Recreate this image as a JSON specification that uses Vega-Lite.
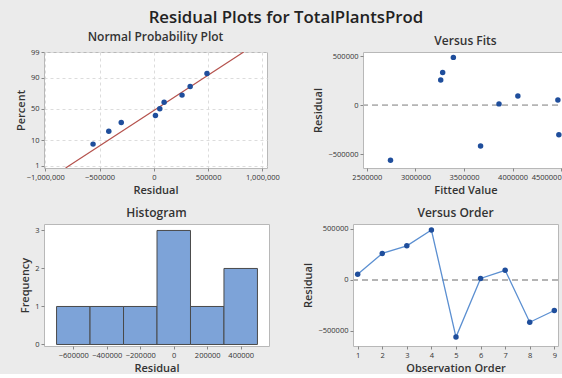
{
  "$schema": "https://vega.github.io/schema/vega-lite/v6.json",
  "background": "#ebebeb",
  "padding": {"left": 14, "top": 9, "right": 0, "bottom": 0},
  "title": {"text": "Residual Plots for TotalPlantsProd", "fontSize": 16.8, "font": "Open Sans", "fontWeight": 600, "color": "#222", "anchor": "middle", "offset": 4, "dx": -6},
  "datasets": {
    "obs": [
      {"order": 1, "fit": 4466000, "resid": 55000},
      {"order": 2, "fit": 3260000, "resid": 260000},
      {"order": 3, "fit": 3280000, "resid": 335000},
      {"order": 4, "fit": 3390000, "resid": 490000},
      {"order": 5, "fit": 2743000, "resid": -560000},
      {"order": 6, "fit": 3860000, "resid": 15000},
      {"order": 7, "fit": 4054000, "resid": 95000},
      {"order": 8, "fit": 3670000, "resid": -415000},
      {"order": 9, "fit": 4476000, "resid": -300000}
    ],
    "npp": [
      {"resid": -560000, "z": -1.443},
      {"resid": -415000, "z": -0.912},
      {"resid": -300000, "z": -0.562},
      {"resid": 15000, "z": -0.27},
      {"resid": 55000, "z": 0},
      {"resid": 95000, "z": 0.27},
      {"resid": 260000, "z": 0.562},
      {"resid": 335000, "z": 0.912},
      {"resid": 490000, "z": 1.443}
    ],
    "fitline": [
      {"resid": -813000, "z": -2.42},
      {"resid": 828000, "z": 2.326}
    ],
    "bins": [
      {"start": -700000, "end": -500000, "count": 1},
      {"start": -500000, "end": -300000, "count": 1},
      {"start": -300000, "end": -100000, "count": 1},
      {"start": -100000, "end": 100000, "count": 3},
      {"start": 100000, "end": 300000, "count": 1},
      {"start": 300000, "end": 500000, "count": 2}
    ]
  },
  "config": {
    "font": "Open Sans",
    "view": {"stroke": "#b8b8b8", "fill": "white"},
    "axis": {"labelFontSize": 7.5, "labelColor": "#333", "titleFontSize": 11, "titleFontWeight": 600, "titleColor": "#333", "domain": false, "tickColor": "#888", "tickSize": 3, "grid": false, "labelPadding": 2, "titlePadding": 4, "labelOverlap": false, "labelFlush": false},
    "title": {"fontSize": 12, "fontWeight": 600, "color": "#333", "offset": 4},
    "concat": {"spacing": 32}
  },
  "spacing": 10,
  "vconcat": [
    {
      "hconcat": [
        {
          "title": "Normal Probability Plot",
          "width": 223,
          "height": 116,
          "encoding": {
            "x": {"field": "resid", "type": "quantitative", "scale": {"domain": [-1012000, 1043000], "nice": false, "zero": false},
              "axis": {"title": "Residual", "values": [-1000000, -500000, 0, 500000, 1000000], "labelOverlap": false, "labelExpr": "abs(datum.value) == 1000000 ? format(datum.value, ',') : format(datum.value, 'd')", "grid": true, "gridDash": [3, 3], "gridColor": "#dcdcdc"}},
            "y": {"field": "z", "type": "quantitative", "scale": {"domain": [-2.42, 2.326], "nice": false, "zero": false},
              "axis": {"title": "Percent", "values": [-2.326, -1.2816, 0, 1.2816, 2.326], "labelOverlap": false, "labelExpr": "datum.value < -2 ? '1' : datum.value < -1 ? '10' : datum.value < 0.5 ? '50' : datum.value < 2 ? '90' : '99'", "grid": true, "gridDash": [3, 3], "gridColor": "#dcdcdc"}}
          },
          "layer": [
            {
              "data": {"name": "fitline"},
              "mark": {"type": "line", "color": "#b5524d", "strokeWidth": 1.2, "clip": true}
            },
            {
              "data": {"name": "npp"},
              "mark": {"type": "circle", "size": 30, "color": "#1f4e9c", "opacity": 1}
            }
          ]
        },
        {
          "title": "Versus Fits",
          "width": 205,
          "height": 116,
          "data": {"name": "obs"},
          "layer": [
            {
              "mark": {"type": "rule", "color": "#b5b5b5", "strokeDash": [6, 4], "strokeWidth": 1},
              "encoding": {"y": {"datum": 0, "type": "quantitative"}}
            },
            {
              "mark": {"type": "circle", "size": 30, "color": "#1f4e9c", "opacity": 1},
              "encoding": {
                "x": {"field": "fit", "type": "quantitative", "scale": {"domain": [2460000, 4570000], "nice": false, "zero": false},
                  "axis": {"title": "Fitted Value", "values": [2500000, 3000000, 3500000, 4000000, 4500000], "format": "d", "labelOverlap": false,
                    "labelAlign": {"condition": {"test": "datum.value >= 4500000", "value": "right"}, "value": "center"}}},
                "y": {"field": "resid", "type": "quantitative", "scale": {"domain": [-640000, 545000], "nice": false, "zero": false},
                  "axis": {"title": "Residual", "values": [-500000, -250000, 0, 250000, 500000], "format": "d", "labelOverlap": false}}
              }
            }
          ]
        }
      ]
    },
    {
      "hconcat": [
        {
          "title": "Histogram",
          "width": 225,
          "height": 122,
          "data": {"name": "bins"},
          "mark": {"type": "bar", "color": "#7da3d8", "stroke": "#4a4a4a", "strokeWidth": 1},
          "encoding": {
            "x": {"field": "start", "type": "quantitative", "scale": {"domain": [-775000, 569000], "nice": false, "zero": false},
              "axis": {"title": "Residual", "values": [-600000, -400000, -200000, 0, 200000, 400000], "format": "d", "labelOverlap": false}},
            "x2": {"field": "end"},
            "y": {"field": "count", "type": "quantitative", "scale": {"domain": [-0.04, 3.17], "nice": false},
              "axis": {"title": "Frequency", "values": [0, 1, 2, 3], "format": "d", "labelOverlap": false}},
            "y2": {"datum": 0}
          }
        },
        {
          "title": "Versus Order",
          "width": 205,
          "height": 122,
          "data": {"name": "obs"},
          "layer": [
            {
              "mark": {"type": "rule", "color": "#b5b5b5", "strokeDash": [6, 4], "strokeWidth": 1},
              "encoding": {"y": {"datum": 0, "type": "quantitative"}}
            },
            {
              "encoding": {
                "x": {"field": "order", "type": "quantitative", "scale": {"domain": [0.81, 9.15], "nice": false, "zero": false},
                  "axis": {"title": "Observation Order", "values": [1, 2, 3, 4, 5, 6, 7, 8, 9], "format": "d", "labelOverlap": false}},
                "y": {"field": "resid", "type": "quantitative", "scale": {"domain": [-648000, 549000], "nice": false, "zero": false},
                  "axis": {"title": "Residual", "values": [-500000, -250000, 0, 250000, 500000], "format": "d", "labelOverlap": false}}
              },
              "layer": [
                {"mark": {"type": "line", "color": "#5b8fd1", "strokeWidth": 1.3}},
                {"mark": {"type": "circle", "size": 30, "color": "#1f4e9c", "opacity": 1}}
              ]
            }
          ]
        }
      ]
    }
  ]
}
